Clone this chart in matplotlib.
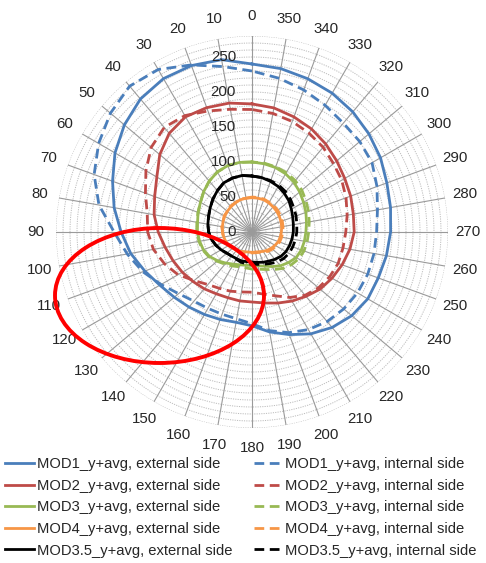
import numpy as np
import matplotlib
matplotlib.use("Agg")
import matplotlib.pyplot as plt
import matplotlib.transforms as mtransforms
from matplotlib.patches import Ellipse

# ---------------- data ----------------
angles_deg = list(range(0, 360, 10))

mod1_ext = [240, 250, 253, 253, 248, 238, 226, 212, 200, 187, 176, 163, 152, 145, 140, 136, 133, 131, 134, 145,
            156, 168, 178, 186, 191, 192, 195, 198, 201, 205, 212, 218, 224, 229, 233, 237]
mod1_int = [230, 240, 254, 268, 272, 264, 253, 240, 222, 197, 181, 166, 150, 137, 129, 126, 125, 126, 131, 143,
            153, 161, 167, 171, 174, 176, 177, 178, 182, 190, 198, 201, 203, 209, 216, 223]
mod2_ext = [183, 187, 189, 190, 184, 172, 157, 148, 142, 134, 126, 120, 115, 110, 106, 102, 100, 100, 100, 103,
            108, 114, 120, 127, 132, 137, 142, 146, 147, 150, 153, 158, 164, 170, 175, 180]
mod2_int = [175, 178, 184, 192, 195, 188, 175, 162, 152, 149, 143, 133, 122, 108, 98, 93, 90, 87, 86, 90,
            97, 108, 118, 124, 128, 131, 132, 134, 138, 143, 148, 152, 158, 163, 168, 172]
mod3_ext = [100, 101, 101, 99, 95, 90, 85, 82, 79, 78, 76, 74, 70, 64, 58, 53, 50, 48, 48, 49,
            52, 57, 63, 68, 73, 75, 76, 77, 79, 82, 85, 89, 93, 96, 98, 99]
mod3_int = [100, 101, 101, 99, 95, 90, 85, 82, 80, 79, 77, 75, 71, 65, 60, 56, 53, 52, 53, 54,
            57, 62, 68, 73, 77, 79, 80, 81, 83, 86, 89, 93, 96, 98, 99, 100]
mod4_ext = [49, 49, 49, 48, 47, 46, 45, 44, 43, 42, 41, 40, 38, 36, 34, 32, 30, 29, 29, 29,
            30, 32, 34, 36, 38, 40, 41, 42, 43, 44, 45, 46, 47, 48, 49, 49]
mod4_int = [50, 49, 50, 48, 48, 46, 46, 44, 44, 42, 42, 40, 39, 36, 35, 32, 31, 29, 30, 30,
            31, 33, 36, 38, 40, 42, 43, 44, 45, 46, 47, 48, 49, 49, 50, 50]
mod35_ext = [80, 82, 82, 81, 77, 73, 69, 66, 64, 62, 59, 55, 51, 47, 45, 44, 44, 43, 43, 44,
             46, 48, 51, 54, 56, 57, 58, 59, 60, 62, 65, 69, 72, 75, 77, 79]
mod35_int = [80, 82, 82, 81, 77, 73, 69, 66, 64, 62, 59, 55, 51, 47, 45, 45, 46, 46, 46, 47,
             49, 52, 56, 59, 61, 62, 63, 64, 65, 67, 69, 72, 75, 77, 78, 79]

series = [
    ("MOD1_y+avg, external side", mod1_ext, "#4A7EBB", "-"),
    ("MOD2_y+avg, external side", mod2_ext, "#BE4B48", "-"),
    ("MOD3_y+avg, external side", mod3_ext, "#98B954", "-"),
    ("MOD4_y+avg, external side", mod4_ext, "#F79646", "-"),
    ("MOD3.5_y+avg, external side", mod35_ext, "#000000", "-"),
    ("MOD1_y+avg, internal side", mod1_int, "#4A7EBB", "--"),
    ("MOD2_y+avg, internal side", mod2_int, "#BE4B48", "--"),
    ("MOD3_y+avg, internal side", mod3_int, "#98B954", "--"),
    ("MOD4_y+avg, internal side", mod4_int, "#F79646", "--"),
    ("MOD3.5_y+avg, internal side", mod35_int, "#000000", "--"),
]

r_max = 280
r_labels = [0, 50, 100, 150, 200, 250]
ring_values = list(range(10, r_max + 1, 10))

# ---------------- figure ----------------
W, H = 486, 563
fig = plt.figure(figsize=(W / 100, H / 100), dpi=100)
cx, cy, R = 252, 232, 196
ax = fig.add_axes([(cx - R) / W, 1 - (cy + R) / H, 2 * R / W, 2 * R / H], projection="polar")
ax.set_theta_zero_location("N")
ax.set_theta_direction(1)
ax.set_ylim(0, r_max)
ax.grid(False)
ax.set_xticks([])
ax.set_yticks([])
ax.spines["polar"].set_visible(False)
ax.patch.set_alpha(0)

fontfam = ["Liberation Sans", "DejaVu Sans"]
txtcol = "#262626"

# rings (dotted)
circ = np.linspace(0, 2 * np.pi, 361)
for rv in ring_values:
    ax.plot(circ, np.full_like(circ, rv), color="#bcbcbc", lw=0.7, ls=(0, (1.2, 1.2)), zorder=1)
# spokes
for a in angles_deg:
    t = np.deg2rad(a)
    ax.plot([t, t], [0, r_max], color="#9a9a9a", lw=0.8, zorder=1)

# series
theta = np.deg2rad(angles_deg + [angles_deg[0]])
handles = []
for name, vals, col, ls in series:
    v = list(vals) + [vals[0]]
    if ls == "--":
        ln, = ax.plot(theta, v, color=col, lw=2.0, ls=(0, (3.5, 2.0)), zorder=3, label=name)
    else:
        ln, = ax.plot(theta, v, color=col, lw=2.0, ls="-", zorder=3, label=name)
    handles.append(ln)

# angle labels
for a in angles_deg:
    ax.text(np.deg2rad(a), r_max * 216 / 196, str(a), ha="center", va="center",
            fontsize=10.8, family=fontfam, color=txtcol, clip_on=False)

# radial labels
off = mtransforms.offset_copy(ax.transData, fig=fig, x=-16, y=0, units="dots")
for rv in r_labels:
    ax.text(0, rv, str(rv), ha="right", va="center", fontsize=10.8, family=fontfam,
            color=txtcol, transform=off, clip_on=False, zorder=5)

# legend
leg = fig.legend(handles=handles, loc="upper left", bbox_to_anchor=(5 / W, 1 - 457 / H), ncol=2,
                 frameon=False, prop={"family": fontfam, "size": 10.6}, handlelength=2.0,
                 handletextpad=0.15, columnspacing=1.45, labelspacing=0.52, borderaxespad=0,
                 borderpad=0)
for t in leg.get_texts():
    t.set_color(txtcol)

# red ellipse annotation (figure pixel coords)
ell = Ellipse((159.5 / W, 1 - 295.5 / H), 209 / W, 135 / H, transform=fig.transFigure,
              fill=False, edgecolor="#FF0000", lw=2.8, zorder=10)
fig.patches.append(ell)

fig.savefig("out.png", dpi=100)
